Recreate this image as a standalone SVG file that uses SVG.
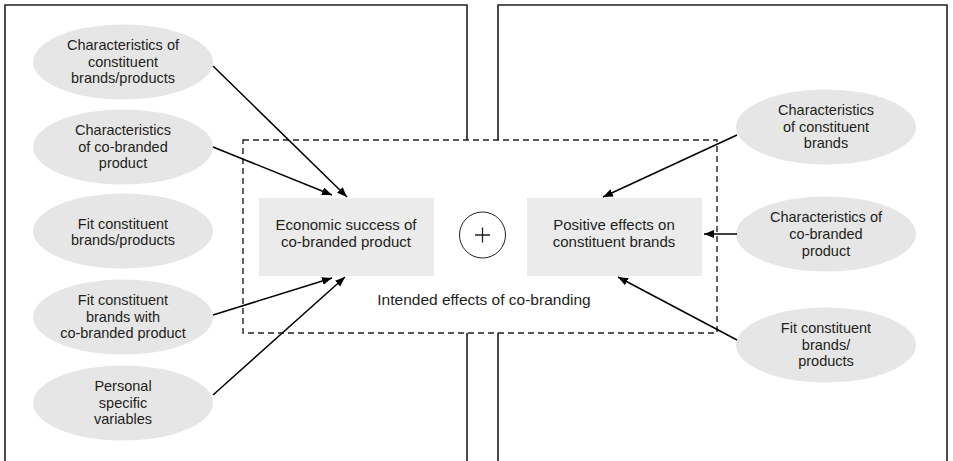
<svg xmlns="http://www.w3.org/2000/svg" width="953" height="461" viewBox="0 0 953 461">
<style>
text{font-family:"Liberation Sans",Arial,sans-serif;font-size:14.5px;fill:#231f20;text-anchor:middle}
.big{font-size:15px}
.lbl{font-size:15.5px}
.ell{fill:#e6e6e6}
.box{fill:#ebebeb}
.frame{fill:none;stroke:#231f20;stroke-width:1.6}
.dash{fill:none;stroke:#231f20;stroke-width:1.4;stroke-dasharray:6 4}
.arr{fill:none;stroke:#000;stroke-width:1.5;marker-end:url(#ah)}
</style>
<defs>
<marker id="ah" viewBox="0 0 10 8" refX="10" refY="4" markerWidth="10" markerHeight="8" markerUnits="userSpaceOnUse" orient="auto">
<path d="M0,0 L10,4 L0,8 z" fill="#000"/>
</marker>
</defs>
<g id="frames">
<path class="frame" d="M467,140 V5 H5 V461 M467,333 V461"/>
<path class="frame" d="M498,140 V5 H947 V461 M498,333 V461"/>
</g>
<g id="intended">
<rect class="dash" x="243" y="140" width="474" height="193"/>
<text class="lbl" x="484" y="305">Intended effects of co-branding</text>
</g>
<g id="n-l1"><ellipse class="ell" cx="123" cy="62" rx="90" ry="37.5"/><text x="123" y="50">Characteristics of</text><text x="123" y="67">constituent</text><text x="123" y="83">brands/products</text></g>
<g id="n-l2"><ellipse class="ell" cx="123" cy="147" rx="90" ry="37.5"/><text x="123" y="135">Characteristics</text><text x="123" y="152">of co-branded</text><text x="123" y="168">product</text></g>
<g id="n-l3"><ellipse class="ell" cx="123" cy="231" rx="90" ry="37.5"/><text x="123" y="229">Fit constituent</text><text x="123" y="245">brands/products</text></g>
<g id="n-l4"><ellipse class="ell" cx="123" cy="317" rx="90" ry="37.5"/><text x="123" y="305">Fit constituent</text><text x="123" y="322">brands with</text><text x="123" y="338">co-branded product</text></g>
<g id="n-l5"><ellipse class="ell" cx="123" cy="403" rx="90" ry="37.5"/><text x="123" y="391">Personal</text><text x="123" y="408">specific</text><text x="123" y="424">variables</text></g>
<g id="n-econ"><rect class="box" x="259" y="198" width="175" height="78"/><text class="big" x="346" y="230">Economic success of</text><text class="big" x="346" y="247">co-branded product</text></g>
<g id="n-plus"><circle cx="482.5" cy="235" r="23" fill="#fff" stroke="#231f20" stroke-width="1"/><path d="M475,235 H490 M482.5,227.5 V242.5" stroke="#231f20" stroke-width="1.3"/></g>
<g id="n-pos"><rect class="box" x="527" y="198" width="175" height="78"/><text class="big" x="614" y="230">Positive effects on</text><text class="big" x="614" y="247">constituent brands</text></g>
<g id="n-r1"><ellipse class="ell" cx="826" cy="127" rx="90" ry="37.5"/><text x="826" y="115">Characteristics</text><text x="826" y="132">of constituent</text><text x="826" y="148">brands</text></g>
<g id="n-r2"><ellipse class="ell" cx="826" cy="234" rx="90" ry="37.5"/><text x="826" y="222">Characteristics of</text><text x="826" y="239">co-branded</text><text x="826" y="256">product</text></g>
<g id="n-r3"><ellipse class="ell" cx="826" cy="345" rx="90" ry="37.5"/><text x="826" y="333">Fit constituent</text><text x="826" y="350">brands/</text><text x="826" y="366">products</text></g>
<g id="connectors">
<path class="arr" d="M213,66 L347,197"/>
<path class="arr" d="M213,147 L332,195"/>
<path class="arr" d="M213,315 L332,278"/>
<path class="arr" d="M213,395 L345,277"/>
<path class="arr" d="M737,135 L603,197"/>
<path class="arr" d="M737,234 L704,234"/>
<path class="arr" d="M737,340 L618,277"/>
</g>
</svg>
